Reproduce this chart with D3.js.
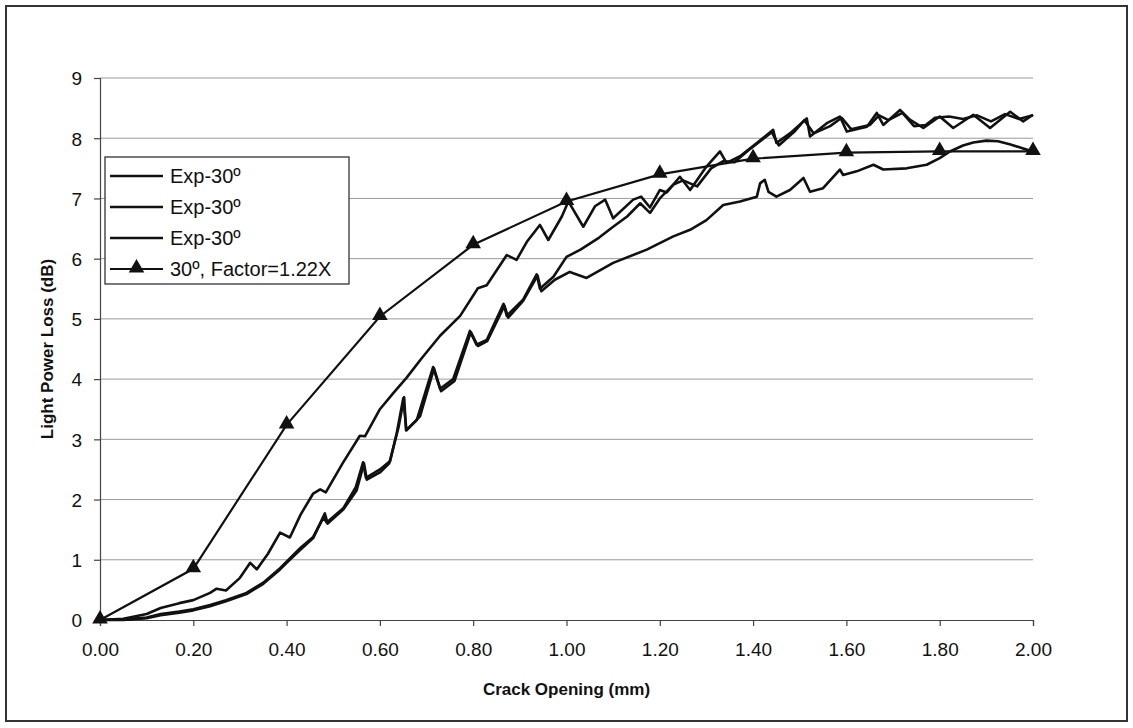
<!DOCTYPE html>
<html>
<head>
<meta charset="utf-8">
<script src="https://cdn.jsdelivr.net/npm/d3@7"></script>
<style>
  html, body { margin: 0; padding: 0; background: #fff; }
  svg { display: block; font-family: "Liberation Sans", Arial, Helvetica, sans-serif; }
</style>
</head>
<body>
<svg id="chart" width="1133" height="728"></svg>
<script>
// Measured light power loss vs. crack opening, three 30° runs plus the scaled model.
const expRun1 = [
  [0,0],[0.05,0.02],[0.1,0.1],[0.13,0.2],[0.17,0.28],[0.2,0.33],[0.236,0.45],[0.25,0.52],[0.27,0.49],
  [0.3,0.7],[0.322,0.95],[0.336,0.84],[0.36,1.1],[0.386,1.45],[0.407,1.37],[0.43,1.75],[0.457,2.1],
  [0.472,2.17],[0.484,2.12],[0.52,2.6],[0.557,3.06],[0.568,3.05],[0.6,3.5],[0.63,3.78],[0.657,4.02],
  [0.69,4.35],[0.729,4.72],[0.772,5.05],[0.81,5.51],[0.829,5.56],[0.872,6.06],[0.893,5.98],[0.915,6.28],
  [0.943,6.56],[0.961,6.31],[0.99,6.7],[1.004,6.95],[1.036,6.53],[1.061,6.87],[1.083,6.98],[1.1,6.67],
  [1.143,6.98],[1.16,7.03],[1.179,6.85],[1.2,7.14],[1.215,7.1],[1.243,7.36],[1.265,7.14],[1.3,7.53],
  [1.329,7.78],[1.343,7.59],[1.372,7.7],[1.408,7.92],[1.443,8.14],[1.45,7.92],[1.479,8.08],[1.515,8.33],
  [1.522,8.03],[1.558,8.25],[1.586,8.36],[1.601,8.11],[1.644,8.19],[1.665,8.42],[1.679,8.22],[1.715,8.47],
  [1.736,8.31],[1.765,8.17],[1.8,8.36],[1.829,8.17],[1.872,8.39],[1.908,8.17],[1.951,8.44],[1.979,8.28],
  [2.0,8.39]
];
const expRun2 = [
  [0,0],[0.05,0.01],[0.1,0.04],[0.13,0.1],[0.17,0.14],[0.2,0.18],[0.236,0.25],[0.27,0.33],[0.314,0.45],
  [0.35,0.62],[0.386,0.86],[0.4,0.97],[0.43,1.2],[0.457,1.38],[0.479,1.7],[0.486,1.62],[0.522,1.86],
  [0.548,2.2],[0.564,2.62],[0.57,2.36],[0.6,2.5],[0.622,2.64],[0.636,3.1],[0.65,3.68],[0.657,3.15],
  [0.679,3.32],[0.714,4.2],[0.729,3.84],[0.757,4.0],[0.793,4.8],[0.807,4.57],[0.829,4.65],[0.865,5.25],
  [0.872,5.05],[0.907,5.32],[0.936,5.74],[0.943,5.5],[0.972,5.7],[1.0,6.03],[1.03,6.15],[1.07,6.35],
  [1.1,6.53],[1.13,6.7],[1.158,6.92],[1.179,6.76],[1.2,7.0],[1.229,7.23],[1.25,7.3],[1.28,7.2],
  [1.31,7.5],[1.336,7.62],[1.36,7.6],[1.39,7.8],[1.42,7.98],[1.44,8.1],[1.455,7.88],[1.49,8.12],
  [1.51,8.3],[1.53,8.08],[1.565,8.2],[1.59,8.34],[1.61,8.15],[1.65,8.22],[1.67,8.38],[1.69,8.3],
  [1.72,8.42],[1.745,8.2],[1.77,8.22],[1.79,8.34],[1.82,8.36],[1.85,8.32],[1.88,8.38],[1.91,8.28],
  [1.94,8.4],[1.97,8.32],[2.0,8.38]
];
const expRun3 = [
  [0,0],[0.05,0.0],[0.1,0.03],[0.13,0.08],[0.17,0.12],[0.2,0.16],[0.236,0.23],[0.27,0.31],[0.314,0.43],
  [0.35,0.6],[0.386,0.84],[0.4,0.95],[0.43,1.17],[0.457,1.36],[0.482,1.77],[0.488,1.6],[0.522,1.84],
  [0.55,2.15],[0.566,2.6],[0.572,2.33],[0.6,2.45],[0.62,2.6],[0.64,3.2],[0.652,3.7],[0.656,3.15],
  [0.686,3.38],[0.716,4.18],[0.731,3.8],[0.76,3.97],[0.795,4.78],[0.81,4.55],[0.83,4.63],[0.867,5.22],
  [0.875,5.02],[0.907,5.3],[0.938,5.72],[0.946,5.46],[0.975,5.65],[1.007,5.78],[1.043,5.68],[1.1,5.93],
  [1.172,6.15],[1.229,6.37],[1.265,6.48],[1.3,6.64],[1.336,6.89],[1.372,6.95],[1.408,7.03],[1.415,7.25],
  [1.425,7.31],[1.433,7.11],[1.45,7.03],[1.479,7.14],[1.508,7.34],[1.522,7.11],[1.55,7.17],[1.586,7.48],
  [1.593,7.39],[1.622,7.45],[1.658,7.56],[1.679,7.48],[1.729,7.5],[1.772,7.56],[1.8,7.67],[1.822,7.78],
  [1.85,7.88],[1.872,7.93],[1.9,7.96],[1.925,7.95],[1.95,7.9],[1.979,7.83],[2.0,7.78]
];
const modelX = [0, 0.2, 0.4, 0.6, 0.8, 1.0, 1.2, 1.4, 1.6, 1.8, 2.0];
const modelY = [0, 0.85, 3.24, 5.04, 6.23, 6.95, 7.4, 7.66, 7.76, 7.78, 7.78];

const xTicks = [0, 0.2, 0.4, 0.6, 0.8, 1.0, 1.2, 1.4, 1.6, 1.8, 2.0];
const yTicks = [0, 1, 2, 3, 4, 5, 6, 7, 8, 9];
const legendLabels = ["Exp-30º", "Exp-30º", "Exp-30º", "30º, Factor=1.22X"];
const xTitle = "Crack Opening (mm)";
const yTitle = "Light Power Loss (dB)";

const svg = d3.select("#chart");
const W = 1133, H = 728;
const plot = { left: 100, right: 1033, top: 78, bottom: 620 };

// outer frame
svg.append("rect")
  .attr("x", 6).attr("y", 6).attr("width", W - 12).attr("height", H - 13)
  .attr("fill", "#fff").attr("stroke", "#333").attr("stroke-width", 2);

const x = d3.scaleLinear().domain([0, 2]).range([plot.left, plot.right]);
const y = d3.scaleLinear().domain([0, 9]).range([plot.bottom, plot.top]);

// horizontal gridlines
svg.append("g")
  .selectAll("line")
  .data(yTicks.filter(d => d > 0))
  .join("line")
  .attr("x1", plot.left).attr("x2", plot.right)
  .attr("y1", d => y(d)).attr("y2", d => y(d))
  .attr("stroke", "#9a9a9a").attr("stroke-width", 1);

// axes
const xAxis = svg.append("g")
  .attr("transform", `translate(0,${plot.bottom})`)
  .call(d3.axisBottom(x).tickValues(xTicks).tickFormat(d3.format(".2f")).tickSize(6).tickPadding(17));
const yAxis = svg.append("g")
  .attr("transform", `translate(${plot.left},0)`)
  .call(d3.axisLeft(y).tickValues(yTicks).tickFormat(d3.format("d")).tickSize(6).tickPadding(12));

[xAxis, yAxis].forEach(g => {
  g.select(".domain").attr("stroke", "#444").attr("stroke-width", 1.2);
  g.selectAll(".tick line").attr("stroke", "#444").attr("stroke-width", 1.2);
  g.selectAll(".tick text")
    .attr("fill", "#111")
    .style("font-size", "19px")
    .style("font-family", "'Liberation Sans', Arial, sans-serif");
});
yAxis.selectAll(".tick text").attr("dy", "0.36em");

// axis titles
svg.append("text")
  .attr("x", (plot.left + plot.right) / 2).attr("y", 695)
  .attr("text-anchor", "middle")
  .style("font-size", "17px").style("font-weight", "bold").attr("fill", "#111")
  .text(xTitle);
svg.append("text")
  .attr("transform", `translate(53,${(plot.top + plot.bottom) / 2}) rotate(-90)`)
  .attr("text-anchor", "middle")
  .style("font-size", "17px").style("font-weight", "bold").attr("fill", "#111")
  .text(yTitle);

// experimental curves
const line = d3.line().x(d => x(d[0])).y(d => y(d[1])).curve(d3.curveLinear);
[expRun1, expRun2, expRun3].forEach(run => {
  svg.append("path")
    .datum(run)
    .attr("d", line)
    .attr("fill", "none")
    .attr("stroke", "#111")
    .attr("stroke-width", 2.6)
    .attr("stroke-linejoin", "round");
});

// scaled model with triangle markers
const modelPts = modelX.map((v, i) => [v, modelY[i]]);
svg.append("path")
  .datum(modelPts)
  .attr("d", line)
  .attr("fill", "none")
  .attr("stroke", "#111")
  .attr("stroke-width", 2.2);

const tri = d3.symbol().type(d3.symbolTriangle).size(105);
svg.append("g")
  .selectAll("path")
  .data(modelPts)
  .join("path")
  .attr("transform", d => `translate(${x(d[0])},${y(d[1]) - 1})`)
  .attr("d", tri)
  .attr("fill", "#111");

// legend
const lg = svg.append("g");
lg.append("rect")
  .attr("x", 105).attr("y", 157).attr("width", 244).attr("height", 127)
  .attr("fill", "#fff").attr("stroke", "#333").attr("stroke-width", 1.3);
legendLabels.forEach((lab, i) => {
  const cy = 176 + i * 31;
  lg.append("line")
    .attr("x1", 110).attr("x2", 163).attr("y1", cy).attr("y2", cy)
    .attr("stroke", "#111").attr("stroke-width", i === 3 ? 2.2 : 2.6);
  if (i === 3) {
    lg.append("path")
      .attr("transform", `translate(136.5,${cy - 1})`)
      .attr("d", tri).attr("fill", "#111");
  }
  lg.append("text")
    .attr("x", 170).attr("y", cy + 7)
    .style("font-size", "20px").attr("fill", "#111")
    .text(lab);
});
</script>
</body>
</html>
